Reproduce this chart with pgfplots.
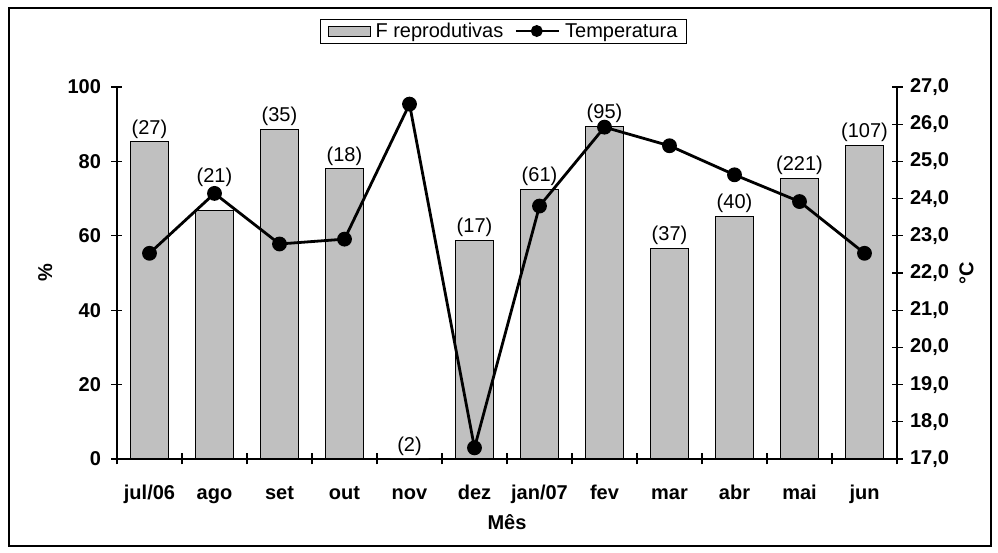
\documentclass[border=0pt]{standalone}
\usepackage{fontspec}
\setmainfont{Liberation Sans}
\usepackage{pgfplots}
\pgfplotsset{compat=1.18}
\definecolor{barfill}{RGB}{192,192,192}
\newcommand{\tickfont}{\fontsize{20}{23}\selectfont\bfseries}
\newcommand{\labfont}{\fontsize{20}{23}\selectfont}
\pgfplotsset{
  barleg/.style={legend image code/.code={\draw[##1] (0pt,-5pt) rectangle (42pt,5pt);}},
  lineleg/.style={legend image code/.code={\draw[mark repeat=2,mark phase=2,##1] plot coordinates {(0pt,0pt)(21pt,0pt)(43pt,0pt)};}},
}
\begin{document}
\begin{tikzpicture}
\useasboundingbox (-117pt,-94pt) rectangle (881pt,459pt);
\draw[line width=1.5pt] (-108pt,-87pt) rectangle (874pt,451pt);
\begin{axis}[
  at={(0pt,0pt)}, anchor=south west, scale only axis,
  width=780pt, height=372pt,
  xmin=-0.5, xmax=11.5, ymin=0, ymax=100,
  axis x line*=bottom, axis y line*=left,
  axis line style={-, line width=1.4pt},
  xtick={0,...,11},
  xticklabels={jul/06,ago,set,out,nov,dez,jan/07,fev,mar,abr,mai,jun},
  major x tick style={draw=none},
  minor xtick={-0.5,0.5,...,11.5},
  ytick={0,20,...,100},
  tick align=center, major tick length=11pt, minor tick length=11pt,
  tick style={line width=1.2pt, black},
  /pgf/number format/assume math mode=true,
  ticklabel style={font=\tickfont},
  xticklabel style={anchor=base, yshift=-35pt, text height=14pt, text depth=4pt},
  yticklabel style={xshift=-7pt},
  xlabel={Mês}, xlabel style={at={(axis description cs:0.5,-0.169)}, anchor=center, font=\tickfont},
  ylabel={\%}, ylabel style={at={(axis description cs:-0.092,0.5)}, anchor=center, font=\tickfont},
  clip=false,
]
\addplot[ybar, bar width=0.585, fill=barfill, draw=black, line width=1pt,
  nodes near coords, point meta=explicit symbolic,
  visualization depends on={\thisrow{dy} \as \dy},
  nodes near coords style={font=\labfont, anchor=south, inner sep=3pt, yshift=\dy pt}]
  table[meta=lab] {
x y lab dy
0 85.3 (27) 0
1 66.9 (21) 20
2 88.7 (35) 0
3 78.0 (18) 0
4 0 (2) 0
5 58.8 (17) 0
6 72.5 (61) 0
7 89.5 (95) 0
8 56.7 (37) 0
9 65.3 (40) 0
10 75.5 (221) 0
11 84.4 (107) 0
};
\end{axis}
\begin{axis}[
  at={(0pt,0pt)}, anchor=south west, scale only axis,
  width=780pt, height=372pt,
  xmin=-0.5, xmax=11.5, ymin=17, ymax=27,
  axis x line=none, axis y line*=right,
  axis line style={-, line width=1.4pt},
  ytick={17,...,27},
  tick align=center, major tick length=11pt,
  tick style={line width=1.2pt, black},
  /pgf/number format/assume math mode=true,
  yticklabel style={font=\tickfont, xshift=4pt, /pgf/number format/.cd, fixed, fixed zerofill, precision=1, use comma},
  ylabel={°C}, ylabel style={at={(axis description cs:1.089,0.5)}, anchor=center, font=\tickfont},
  legend columns=2,
  legend style={at={(0.4955,1.1505)}, anchor=center, draw=black, line width=1pt,
    font=\labfont, inner xsep=7pt, inner ysep=2pt,
    /tikz/every odd column/.append style={column sep=3pt},
    /tikz/every even column/.append style={column sep=9pt}},
  clip=false,
]
\addlegendimage{barleg, fill=barfill, draw=black, line width=1pt}
\addlegendentry{F reprodutivas}
\addlegendimage{lineleg, black, line width=2.8pt, mark=*, mark size=4.5pt}
\addlegendentry{Temperatura}
\addplot[black, line width=2.8pt, mark=*, mark size=6pt, forget plot] coordinates {
(0,22.53) (1,24.14) (2,22.78) (3,22.91) (4,26.54) (5,17.30)
(6,23.80) (7,25.92) (8,25.42) (9,24.64) (10,23.92) (11,22.53)
};
\end{axis}
\end{tikzpicture}
\end{document}
